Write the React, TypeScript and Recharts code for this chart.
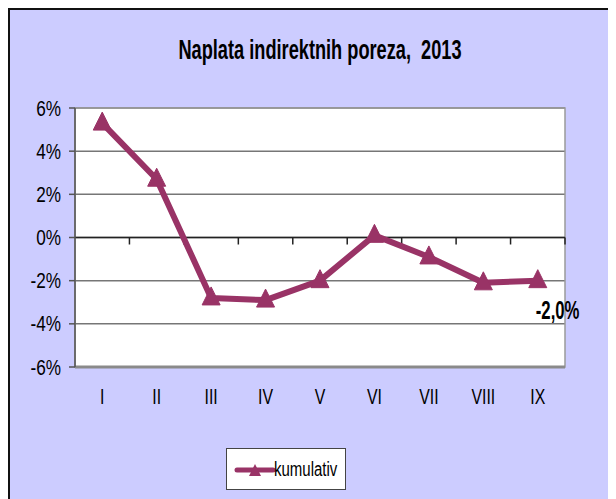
import React from 'react';
import {
  LineChart,
  Line,
  XAxis,
  YAxis,
  CartesianGrid,
  ReferenceLine,
  ReferenceArea,
  Legend,
  Customized,
  LabelList,
} from 'recharts';

const months = ['I', 'II', 'III', 'IV', 'V', 'VI', 'VII', 'VIII', 'IX'];
const kumulativ = [5.3, 2.7, -2.8, -2.9, -2.0, 0.1, -0.9, -2.1, -2.0];
const yTicks = [-6, -4, -2, 0, 2, 4, 6];
const title = 'Naplata indirektnih poreza,  2013';
const seriesName = 'kumulativ';

const data = months.map((m, i) => ({ month: m, kumulativ: kumulativ[i] }));

const FONT = '"Liberation Sans", Arial, sans-serif';
const PLUM = '#993366';
const GRID = '#767676';

const Triangle = (props: any) => {
  const { cx, cy } = props;
  if (cx == null || cy == null) return null;
  return (
    <path
      d={`M${cx},${cy - 11} L${cx + 9},${cy + 7} L${cx - 9},${cy + 7} Z`}
      fill={PLUM}
      stroke={PLUM}
      strokeWidth={1}
    />
  );
};

const YTick = (props: any) => {
  const { x, y, payload } = props;
  return (
    <g transform={`translate(${x},${y}) scale(0.78,1)`}>
      <text x={0} y={0} dy={7.5} textAnchor="end" fontSize={22} fontFamily={FONT} fill="#000">
        {`${payload.value}%`}
      </text>
    </g>
  );
};

const XTick = (props: any) => {
  const { x, y, payload } = props;
  return (
    <g transform={`translate(${x},${y + 37}) scale(0.72,1)`}>
      <text x={0} y={0} textAnchor="middle" fontSize={22} fontFamily={FONT} fill="#000">
        {payload.value}
      </text>
    </g>
  );
};

const ZeroAxis = (props: any) => {
  const { x1, y1, x2 } = props;
  if (x1 == null) return null;
  const n = months.length;
  const step = (x2 - x1) / n;
  const ticks = [];
  for (let i = 1; i <= n; i++) {
    ticks.push(
      <line key={i} x1={x1 + step * i} x2={x1 + step * i} y1={y1} y2={y1 + 7} stroke="#222" strokeWidth={1.5} />
    );
  }
  return (
    <g>
      <line x1={x1} y1={y1} x2={x2} y2={y1} stroke="#222" strokeWidth={1.5} />
      {ticks}
    </g>
  );
};

const Title = () => (
  <g transform="translate(310,49) scale(0.65,1)">
    <text
      x={0}
      y={0}
      textAnchor="middle"
      fontSize={28}
      fontWeight="bold"
      fontFamily={FONT}
      fill="#000"
      style={{ whiteSpace: 'pre' }}
    >
      {title}
    </text>
  </g>
);

const LastLabel = (props: any) => {
  const { x, y, width, index, value } = props;
  if (index !== months.length - 1) return null;
  const cx = x + (width || 0) / 2;
  const txt = `${Number(value).toFixed(1).replace('.', ',')}%`;
  return (
    <g transform={`translate(${cx - 2},${y + 38}) scale(0.67,1)`}>
      <text x={0} y={0} fontSize={25} fontWeight="bold" fontFamily={FONT} fill="#000">
        {txt}
      </text>
    </g>
  );
};

const LegendBox = () => (
  <div
    style={{
      boxSizing: 'border-box',
      width: 120,
      height: 42,
      background: '#fff',
      border: '1px solid #444',
      position: 'relative',
    }}
  >
    <svg width={44} height={40} style={{ position: 'absolute', left: 6, top: 0 }}>
      <line x1={4} y1={21} x2={40} y2={21} stroke={PLUM} strokeWidth={5} strokeLinecap="round" />
      <path d="M22,15 L28,27 L16,27 Z" fill={PLUM} />
    </svg>
    <span
      style={{
        position: 'absolute',
        left: 47,
        top: 8,
        fontFamily: FONT,
        fontSize: 20,
        lineHeight: '24px',
        display: 'inline-block',
        transform: 'scaleX(0.75)',
        transformOrigin: 'left center',
        color: '#000',
        whiteSpace: 'nowrap',
      }}
    >
      {seriesName}
    </span>
  </div>
);

export default function App() {
  return (
    <div
      style={{
        width: 606,
        height: 489,
        borderLeft: '2px solid #111',
        borderTop: '2px solid #111',
        background: '#CCCCFF',
        position: 'relative',
      }}
    >
      <LineChart
        width={606}
        height={489}
        data={data}
        margin={{ top: 98, right: 51, bottom: 92, left: 0 }}
      >
        <CartesianGrid vertical={false} fill="#ffffff" stroke={GRID} strokeWidth={1.5} />
        <ReferenceArea y1={-6} y2={6} fill="none" stroke="#9a9a9a" strokeWidth={1.5} ifOverflow="visible" />
        <ReferenceLine y={-6} stroke="#8a8a8a" strokeWidth={3} ifOverflow="visible" />
        <ReferenceLine y={0} shape={ZeroAxis} ifOverflow="visible" />
        <XAxis
          dataKey="month"
          scale="band"
          axisLine={false}
          tickLine={false}
          tickSize={0}
          tickMargin={0}
          height={40}
          interval={0}
          tick={<XTick />}
        />
        <YAxis
          domain={[-6, 6]}
          ticks={yTicks}
          width={65}
          tickSize={6}
          tickMargin={8}
          axisLine={{ stroke: '#555', strokeWidth: 1.5 }}
          tickLine={{ stroke: '#555', strokeWidth: 1.5 }}
          tick={<YTick />}
          interval={0}
        />
        <Line
          type="linear"
          dataKey="kumulativ"
          name={seriesName}
          stroke={PLUM}
          strokeWidth={6}
          strokeLinejoin="round"
          dot={<Triangle />}
          activeDot={false}
          isAnimationActive={false}
        >
          <LabelList dataKey="kumulativ" content={<LastLabel />} />
        </Line>
        <Legend
          layout="horizontal"
          verticalAlign="middle"
          align="center"
          wrapperStyle={{ position: 'absolute', left: 216, top: 438, width: 120, height: 42, margin: 0 }}
          content={<LegendBox />}
        />
        <Customized component={<Title />} />
      </LineChart>
    </div>
  );
}
